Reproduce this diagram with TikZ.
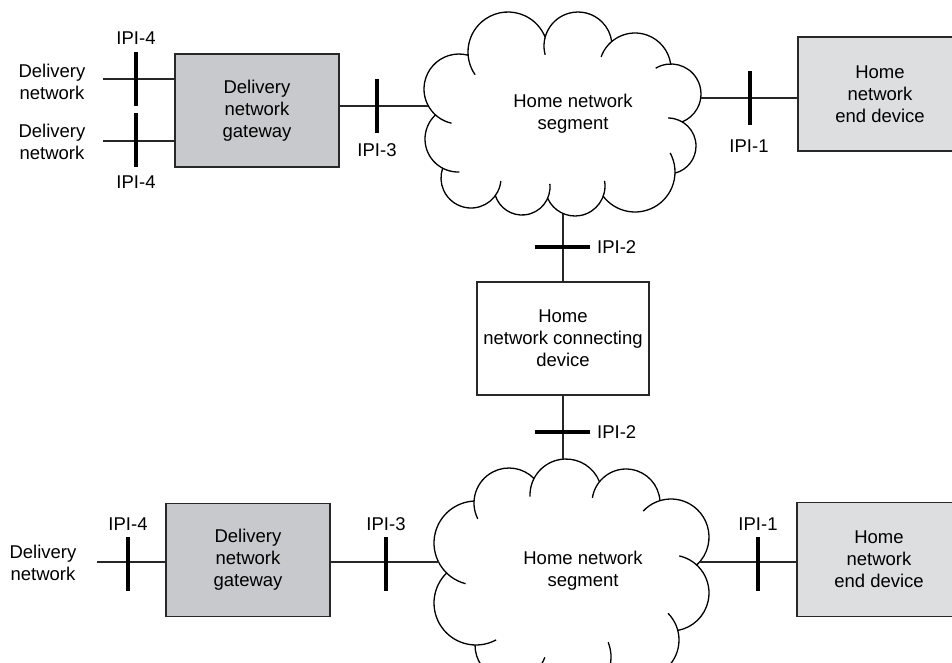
\documentclass[tikz,border=0pt]{standalone}
\usepackage{fontspec}
\setmainfont{Liberation Sans}
\usetikzlibrary{calc}
\definecolor{gwfill}{RGB}{200,201,204}
\definecolor{edfill}{RGB}{221,222,224}
\definecolor{edge}{RGB}{40,40,40}

\newcounter{puffn}
% #1 centre (px), #2 list x/y/r relative (px), #3 hook angle
\newcommand\cloudpuffs[3]{%
  \setcounter{puffn}{0}%
  \foreach \clpx/\clpy/\clpr in {#2}{%
    \stepcounter{puffn}%
    \pgfmathsetmacro\cltx{(\clpx)/10}\pgfmathsetmacro\clty{(\clpy)/10}\pgfmathsetmacro\cltr{(\clpr)/10}%
    \expandafter\xdef\csname pfx\arabic{puffn}\endcsname{\cltx}%
    \expandafter\xdef\csname pfy\arabic{puffn}\endcsname{\clty}%
    \expandafter\xdef\csname pfr\arabic{puffn}\endcsname{\cltr}%
  }%
  \edef\clnp{\arabic{puffn}}%
  \foreach \cli in {1,...,\clnp}{%
    \pgfmathtruncatemacro\clj{mod(\cli,\clnp)+1}%
    \edef\clxa{\csname pfx\cli\endcsname}\edef\clya{\csname pfy\cli\endcsname}\edef\clra{\csname pfr\cli\endcsname}%
    \edef\clxb{\csname pfx\clj\endcsname}\edef\clyb{\csname pfy\clj\endcsname}\edef\clrb{\csname pfr\clj\endcsname}%
    \pgfmathsetmacro\cldx{(\clxb)-(\clxa)}\pgfmathsetmacro\cldy{(\clyb)-(\clya)}%
    \pgfmathsetmacro\cldd{sqrt((\cldx)*(\cldx)+(\cldy)*(\cldy))}%
    \pgfmathsetmacro\clqa{((\cldd)*(\cldd)+(\clra)*(\clra)-(\clrb)*(\clrb))/(2*(\cldd))}%
    \pgfmathsetmacro\clhh{sqrt(max((\clra)*(\clra)-(\clqa)*(\clqa),0))}%
    \pgfmathsetmacro\clix{(\clxa)+(\clqa)*(\cldx)/(\cldd)+(\clhh)*(\cldy)/(\cldd)}%
    \pgfmathsetmacro\cliy{(\clya)+(\clqa)*(\cldy)/(\cldd)-(\clhh)*(\cldx)/(\cldd)}%
    \pgfmathsetmacro\clea{atan2((\cliy)-(\clya),(\clix)-(\clxa))}%
    \pgfmathsetmacro\clqs{atan2((\cliy)-(\clyb),(\clix)-(\clxb))}%
    \expandafter\xdef\csname pfe\cli\endcsname{\clea}%
    \expandafter\xdef\csname pfs\clj\endcsname{\clqs}%
  }%
  \begin{scope}[shift={#1}, x=10pt, y=-10pt]
  \foreach \cli in {1,...,\clnp}{%
    \edef\clxa{\csname pfx\cli\endcsname}\edef\clya{\csname pfy\cli\endcsname}\edef\clra{\csname pfr\cli\endcsname}%
    \edef\clst{\csname pfs\cli\endcsname}%
    \pgfmathsetmacro\clsa{(\clst)-#3}%
    \edef\cleA{\csname pfe\cli\endcsname}%
    \pgfmathsetmacro\cleB{((\cleA)<(\clst)) ? (\cleA)+360 : (\cleA)}%
    \pgfmathsetmacro\clsx{(\clxa)+(\clra)*cos(\clsa)}\pgfmathsetmacro\clsy{(\clya)+(\clra)*sin(\clsa)}%
    \draw[cloudline] (\clsx,\clsy) arc[start angle=\clsa, end angle=\cleB, radius=\clra];
  }%
  \end{scope}
}

\begin{document}
\begin{tikzpicture}[x=1pt,y=-1pt,
  font=\fontsize{18.5}{22}\selectfont,
  conn/.style={line width=1.2pt, draw=black!85},
  tickmark/.style={line width=3.2pt, draw=black},
  cloudline/.style={line width=1.3pt, draw=black},
  boxbase/.style={draw=edge, line width=1.6pt, align=center, inner sep=0pt},
  gwbox/.style={boxbase, fill=gwfill, minimum width=164pt, minimum height=113pt},
  edbox/.style={boxbase, fill=edfill, minimum width=164pt, minimum height=114pt},
  hcbox/.style={boxbase, fill=white, minimum width=172pt, minimum height=113pt},
  lbl/.style={inner sep=0pt, align=center}]
\useasboundingbox (0,0) rectangle (952,662);
\clip (0,0) rectangle (952,662);

% ---------- clouds ----------
\cloudpuffs{(563,114)}{108/-20/30, 105/32/28, 72/58/40, 12/72/30, -41/73/28, -92/64/30, -105/25/33, -104/-25/35, -55/-62/40, 15/-68/34, 72/-45/36}{30}
\cloudpuffs{(571,565)}{100/-28/38, 100/28/38, 70/75/38, 0/92/40, -60/80/36, -95/38/42, -95/-22/42, -62/-62/35, -5/-70/36, 55/-62/34}{30}

\node[lbl] (cl1t) at (573,114) {Home network\\segment};
\node[lbl] (cl2t) at (583,571) {Home network\\segment};

\coordinate (c1w) at (428.4,106);
\coordinate (c1e) at (700.7,98);
\coordinate (c1s) at (563,213.5);
\coordinate (c2n) at (563,459.1);
\coordinate (c2w) at (438.5,562);
\coordinate (c2e) at (699.6,562);

% ---------- boxes ----------
\node[gwbox] (gw1) at (257,110.5) {Delivery\\network\\gateway};
\node[gwbox] (gw2) at (248,560) {Delivery\\network\\gateway};
\node[edbox] (ed1) at (880,94) {Home\\network\\end device};
\node[edbox] (ed2) at (879,559.5) {Home\\network\\end device};
\node[hcbox] (hc) at (563,338.5) {Home\\network connecting\\device};

% ---------- delivery network labels ----------
\node[lbl] (dn1) at (52,82) {Delivery\\network};
\node[lbl] (dn2) at (52,142) {Delivery\\network};
\node[lbl] (dn3) at (43,562.5) {Delivery\\network};
\coordinate (dn1e) at (103,79);
\coordinate (dn2e) at (103,141);
\coordinate (dn3e) at (97,562);

% ---------- connectors ----------
\draw[conn] (dn1e) -- (dn1e -| gw1.west);
\draw[conn] (dn2e) -- (dn2e -| gw1.west);
\draw[conn] (c1w -| gw1.east) -- (c1w);
\draw[conn] (c1e) -- (c1e -| ed1.west);
\draw[conn] (c1s) -- (c1s |- hc.north);
\draw[conn] (hc.south) -- (c2n);
\draw[conn] (dn3e) -- (dn3e -| gw2.west);
\draw[conn] (gw2.east |- c2w) -- (c2w);
\draw[conn] (c2e) -- (c2e -| ed2.west);

% ---------- interface ticks ----------
\draw[tickmark] (136,52) -- (136,106);
\draw[tickmark] (136,113) -- (136,167);
\draw[tickmark] (377,79) -- (377,133);
\draw[tickmark] (750,71) -- (750,125);
\draw[tickmark] (535,247) -- (590,247);
\draw[tickmark] (535,432) -- (590,432);
\draw[tickmark] (128,537) -- (128,591);
\draw[tickmark] (386,537) -- (386,591);
\draw[tickmark] (758,537) -- (758,591);

% ---------- interface labels ----------
\node[lbl] (i4a) at (136,38) {IPI-4};
\node[lbl] (i4b) at (136,182) {IPI-4};
\node[lbl] (i3a) at (377,150) {IPI-3};
\node[lbl] (i1a) at (749,146) {IPI-1};
\node[lbl, anchor=west] (i2a) at (597,247) {IPI-2};
\node[lbl, anchor=west] (i2b) at (597,432) {IPI-2};
\node[lbl] (i4c) at (128,524) {IPI-4};
\node[lbl] (i3b) at (386,524) {IPI-3};
\node[lbl] (i1b) at (758,524) {IPI-1};
\end{tikzpicture}
\end{document}
